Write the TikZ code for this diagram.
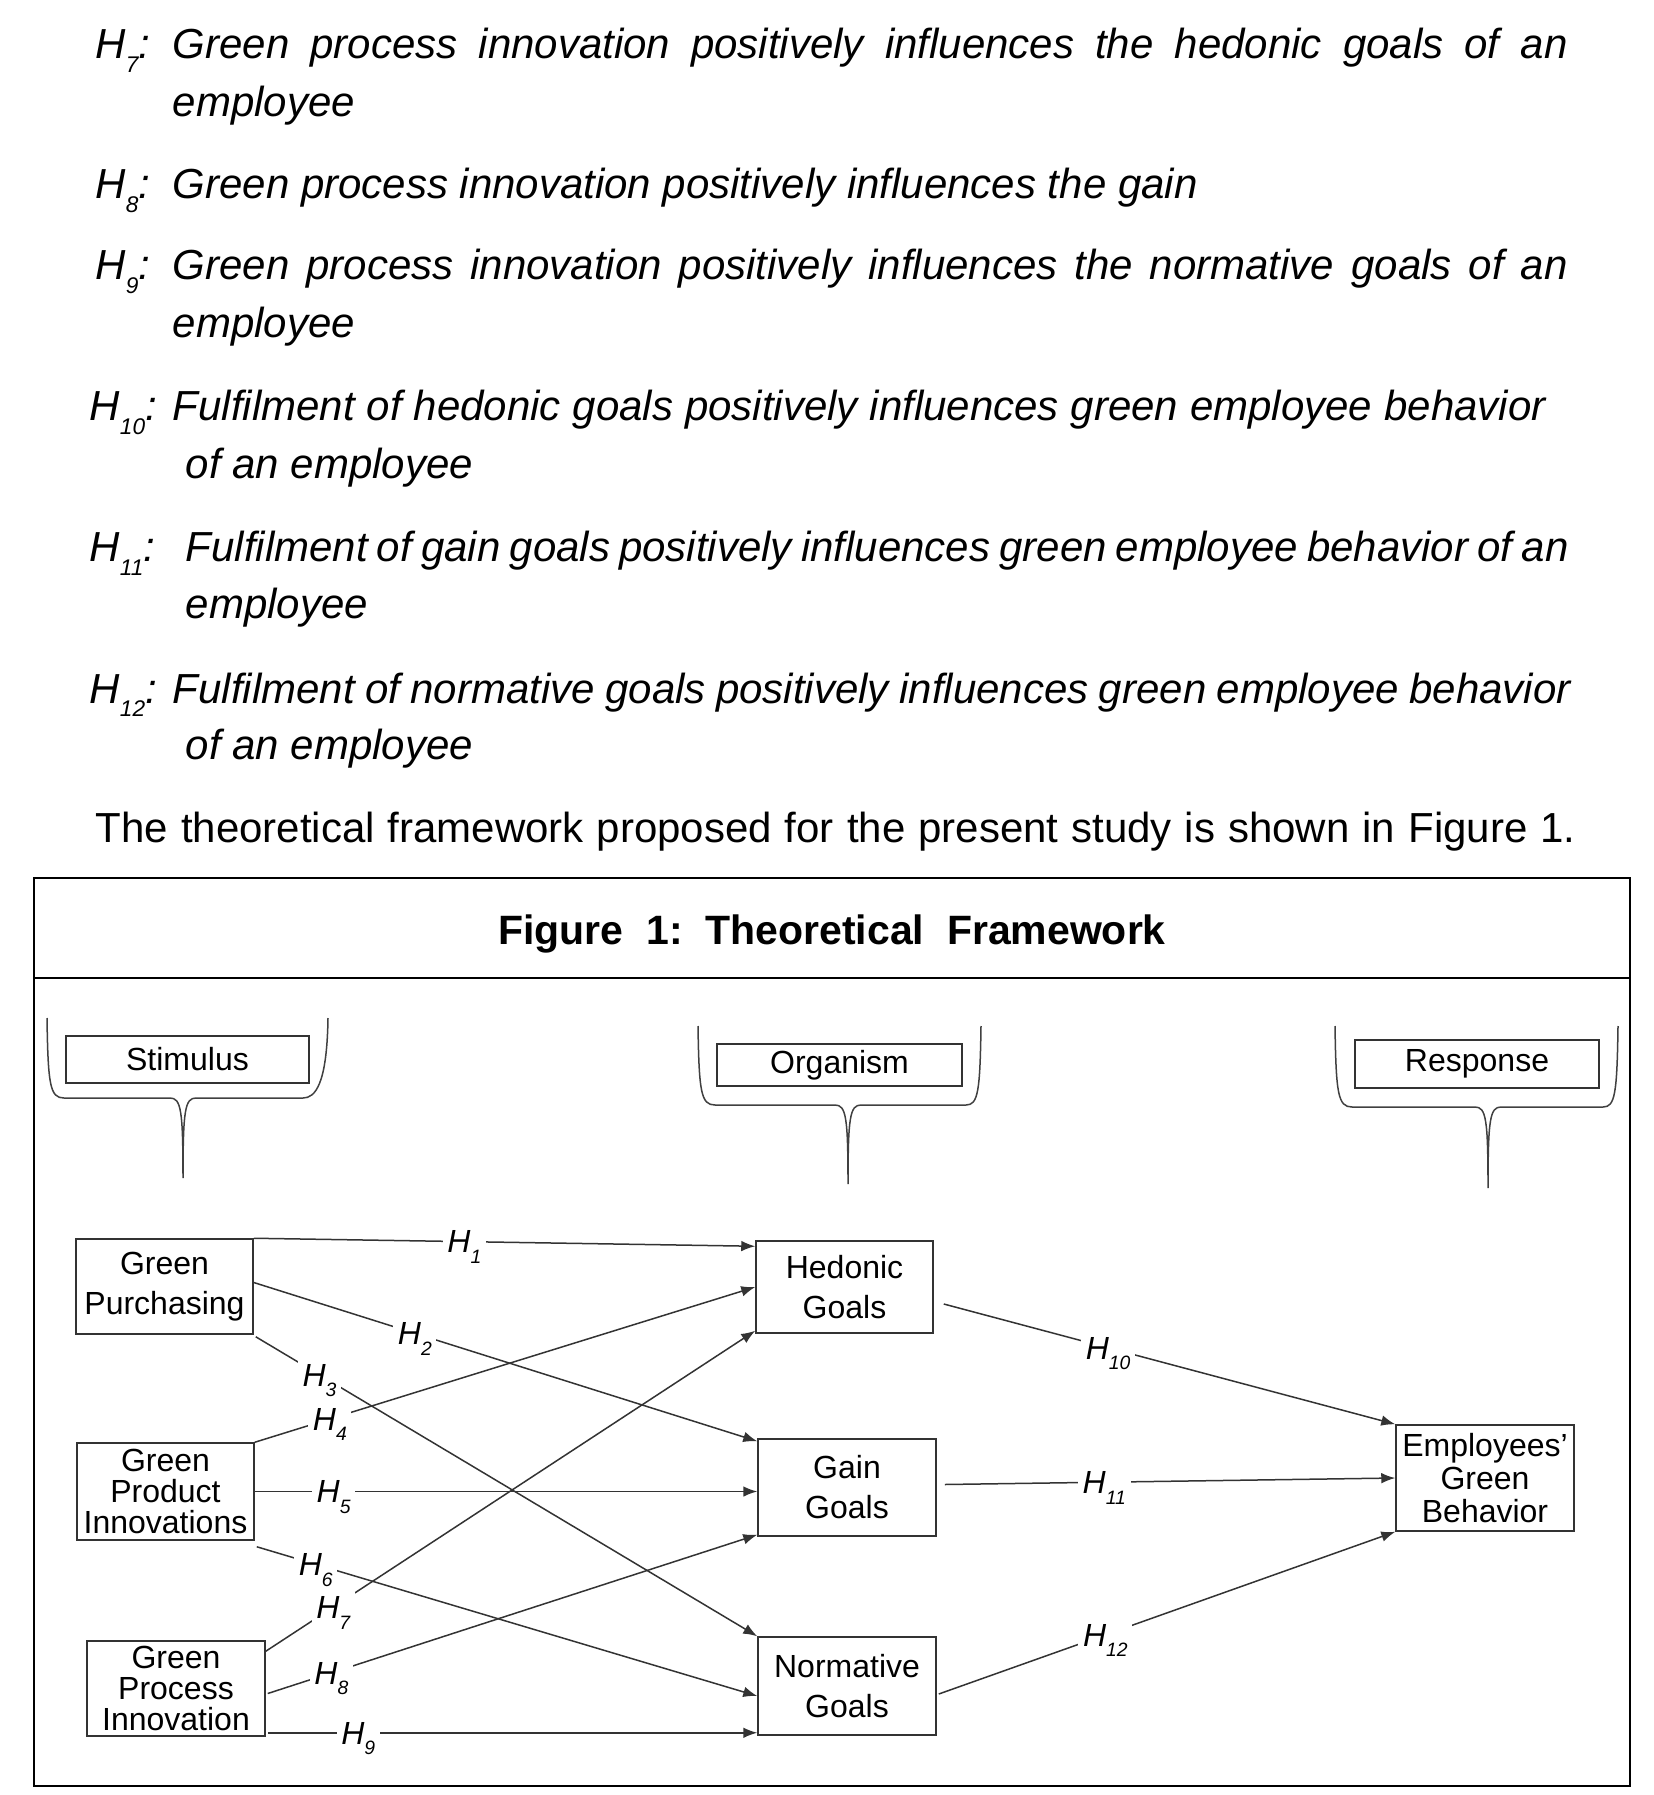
\documentclass[tikz,border=0pt]{standalone}
\usepackage{fontspec}
\setmainfont{Liberation Sans}
\usetikzlibrary{arrows.meta,calc}

\tikzset{
	box/.style={draw=black!80, line width=0.45pt, inner sep=0pt, align=center, font=\fontsize{9.6}{12}\selectfont},
	tag/.style={fill=white, inner sep=1.4pt, anchor=base, yshift=-3.4pt, font=\fontsize{9.6}{12}\selectfont\itshape},
	hyp/.style={draw=black!80, line width=0.45pt, -{Latex[length=4.2pt,width=3.2pt]}},
	brace/.style={draw=black!75, line width=0.45pt},
	body/.style={inner sep=0pt, anchor=base west, font=\fontsize{12.6}{15}\selectfont\itshape}
}
\newcommand{\hbody}[1]{H\raisebox{-4pt}{\fontsize{6.8}{7}\selectfont #1}}
\newcommand{\hdiag}[1]{H\raisebox{-3.2pt}{\fontsize{5.8}{6}\selectfont #1}}

\begin{document}
\begin{tikzpicture}[x=0.3pt, y=-0.3pt]
\useasboundingbox (0,0) rectangle (1653,1795);

% hypotheses text
	\node [body] (h7) at (95,59) {\hbody{7}:};
	\node [body] (h7a) at (172,59) {\makebox[418.5pt][s]{Green process innovation positively influences the hedonic goals of an}};
	\node [body] (h7b) at (172,117) {employee};

	\node [body] (h8) at (95,199) {\hbody{8}:};
	\node [body] (h8a) at (172,199) {Green process innovation positively influences the gain};

	\node [body] (h9) at (95,280) {\hbody{9}:};
	\node [body] (h9a) at (172,280) {\makebox[418.5pt][s]{Green process innovation positively influences the normative goals of an}};
	\node [body] (h9b) at (172,338) {employee};

	\node [body] (h10) at (89,421) {\hbody{10}:};
	\node [body] (h10a) at (172,421) {\makebox[411.9pt][s]{Fulfilment of hedonic goals positively influences green employee behavior}};
	\node [body] (h10b) at (185,479) {of an employee};

	\node [body] (h11) at (89,562) {\hbody{11}:};
	\node [body] (h11a) at (185,562) {\makebox[414.9pt][s]{Fulfilment of gain goals positively influences green employee behavior of an}};
	\node [body] (h11b) at (185,619) {employee};

	\node [body] (h12) at (89,703) {\hbody{12}:};
	\node [body] (h12a) at (172,703) {\makebox[419.4pt][s]{Fulfilment of normative goals positively influences green employee behavior}};
	\node [body] (h12b) at (185,759) {of an employee};

	\node [body, font=\fontsize{12.6}{15}\selectfont] (intro) at (95,842) {\makebox[444pt][s]{The theoretical framework proposed for the present study is shown in Figure 1.}};

% figure frame
\draw [line width=0.8pt] (34,878) rectangle (1630,1786);
\draw [line width=0.8pt] (34,978) -- (1630,978);
	\node [anchor=base, font=\fontsize{12.3}{14}\selectfont\bfseries] (title) at (832,944) {Figure\ \ 1:\ \ Theoretical\ \ Framework};

% S-O-R braces
	\draw [brace] (47,1018) .. controls (48,1085) and (50,1098) .. (64,1098) -- (170,1098) .. controls (181,1098) and (183,1110) .. (183,1178) .. controls (183,1110) and (185,1098) .. (196,1098) -- (303,1098) .. controls (315,1098) and (327,1085) .. (328,1018);
	\draw [brace] (698,1026) .. controls (699,1092) and (701,1105) .. (715,1105) -- (835,1105) .. controls (846,1105) and (848,1117) .. (848,1184) .. controls (848,1117) and (850,1105) .. (861,1105) -- (966,1105) .. controls (978,1105) and (980,1092) .. (981,1026);
	\draw [brace] (1335,1026) .. controls (1336,1094) and (1338,1107) .. (1352,1107) -- (1475,1107) .. controls (1486,1107) and (1488,1119) .. (1488,1188) .. controls (1488,1119) and (1490,1107) .. (1501,1107) -- (1603,1107) .. controls (1615,1107) and (1617,1094) .. (1618,1026);

	\node [box, minimum width=72.9pt, minimum height=14.1pt] (stim) at (187.5,1059.5) {Stimulus};
	\node [box, minimum width=73.5pt, minimum height=12.6pt] (org) at (839.5,1065) {Organism};
	\node [box, minimum width=73.2pt, minimum height=14.4pt] (resp) at (1477,1064) {Response};

% constructs
	\node [box, minimum width=53.1pt, minimum height=28.5pt] (gp) at (164.5,1286.5) {Green\\Purchasing};
	\node [box, minimum width=53.1pt, minimum height=29.1pt, font=\fontsize{9.6}{9.4}\selectfont] (gpi) at (165.5,1491.5) {Green\\Product\\Innovations};
	\node [box, minimum width=53.4pt, minimum height=28.5pt, font=\fontsize{9.6}{9.4}\selectfont] (gpr) at (176,1688.5) {Green\\Process\\Innovation};

	\node [box, minimum width=53.1pt, minimum height=27.6pt] (hed) at (844.5,1287) {Hedonic\\Goals};
	\node [box, minimum width=53.4pt, minimum height=29.1pt] (gain) at (847,1487.5) {Gain\\Goals};
	\node [box, minimum width=53.4pt, minimum height=29.4pt] (norm) at (847,1686) {Normative\\Goals};

	\node [box, minimum width=53.4pt, minimum height=31.8pt, font=\fontsize{9.6}{10}\selectfont] (emp) at (1485,1478) {Employees’\\Green\\Behavior};

% hypotheses paths
	\draw [hyp] (gp.north east) -- node[tag, pos=0.42] (l1) {\hdiag{1}} ($(hed.north west)+(0,6)$);
	\draw [hyp] ($(gp.east)+(0,-4)$) -- node[tag, pos=0.32] (l2) {\hdiag{2}} ($(gain.north west)+(0,3)$);
	\draw [hyp] ($(gp.south east)+(2,2)$) -- node[tag, pos=0.127] (l3) {\hdiag{3}} (norm.north west);

	\draw [hyp] (gpi.north east) -- node[tag, pos=0.15] (l4) {\hdiag{4}} (hed.west);
	\draw [hyp] (gpi.east) -- node[tag, pos=0.157] (l5) {\hdiag{5}} (gpi.east -| gain.west);
	\draw [hyp] ($(gpi.south east)+(2,6)$) -- node[tag, pos=0.118] (l6) {\hdiag{6}} ($(norm.west)+(0,10)$);

	\coordinate (s9) at ($(gpr.south east)+(2,-4)$);
	\draw [hyp] ($(gpr.north east)+(0,11)$) -- node[tag, pos=0.138] (l7) {\hdiag{7}} ($(hed.south west)+(0,-3)$);
	\draw [hyp] ($(gpr.east)+(2,5)$) -- node[tag, pos=0.13] (l8) {\hdiag{8}} ($(gain.south west)+(0,-2)$);
	\draw [hyp] (s9) -- node[tag, pos=0.185] (l9) {\hdiag{9}} (s9 -| norm.west);

	\draw [hyp] ($(hed.east)+(10,17)$) -- node[tag, pos=0.364] (l10) {\hdiag{10}} (emp.north west);
	\draw [hyp] ($(gain.east)+(8,-3)$) -- node[tag, pos=0.354] (l11) {\hdiag{11}} (emp.west);
	\draw [hyp] ($(norm.east)+(2,8)$) -- node[tag, pos=0.365] (l12) {\hdiag{12}} (emp.south west);

\end{tikzpicture}
\end{document}
